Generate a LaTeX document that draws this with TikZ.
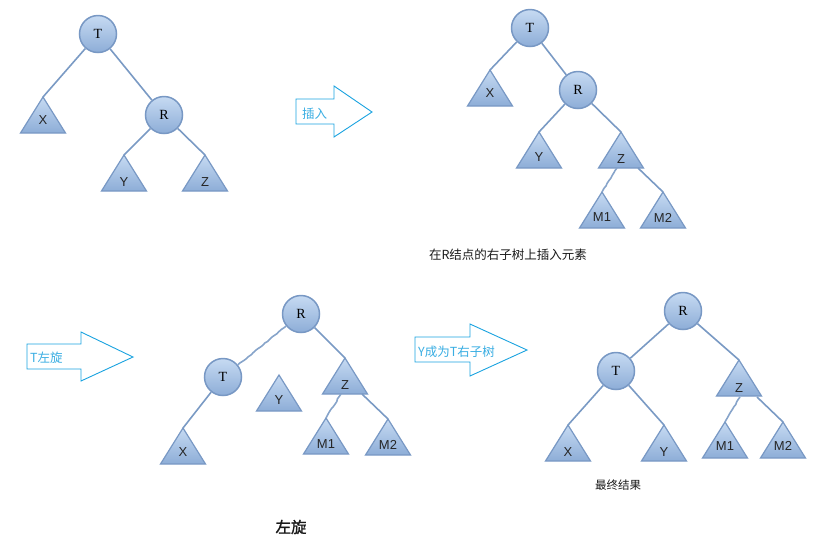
\documentclass[tikz,border=0pt]{standalone}
\usepackage{fontspec}
\setmainfont{Liberation Serif}
\newfontfamily\cjk{Noto Sans CJK SC}
\newfontfamily\cjkb{Noto Sans CJK SC}[FakeBold=1.5]
\newfontfamily\lsans{Liberation Sans}
\usetikzlibrary{decorations.pathmorphing}
\definecolor{nodeborder}{HTML}{7898C4}
\definecolor{nodetop}{HTML}{C6DAF2}
\definecolor{nodebot}{HTML}{8DADD7}
\definecolor{edgecol}{HTML}{7A9AC4}
\definecolor{arrowcol}{HTML}{1AA3E0}
\definecolor{arrowtext}{HTML}{3AAEE3}
\definecolor{captext}{HTML}{1A1A1A}
\tikzset{
  circ/.style={circle, minimum size=37pt, inner sep=0pt, draw=nodeborder, line width=1.5pt,
    top color=nodetop, bottom color=nodebot, font=\fontsize{14}{16}\selectfont},
  tristyle/.style={draw=nodeborder, line width=1.2pt, top color=nodetop, bottom color=nodebot, line join=miter},
  trilabel/.style={inner sep=0pt, font=\lsans\fontsize{13}{15}\selectfont, text=black!85},
  edge/.style={draw=edgecol, line width=1.6pt},
  roughedge/.style={draw=edgecol!90, line width=1.6pt, decorate,
    decoration={random steps, segment length=3pt, amplitude=0.45pt}},
  blockarrow/.style={draw=arrowcol, line width=0.9pt, fill=white, line join=miter},
  arrowlabel/.style={inner sep=0pt, anchor=west, text=arrowtext, font=\cjk\fontsize{12.5}{14}\selectfont},
  captionnode/.style={inner sep=0pt, text=captext, font=\cjk\fontsize{12.5}{14}\selectfont},
}
\newcommand\mytri[5]{%
  \shade[tristyle] (#2,#3) -- ++(-22.5,36) -- ++(45,0) -- cycle;
  \coordinate (#1) at (#2,#3);
  \node[trilabel] (#1l) at (#2,#3+#5) {#4};%
}
\begin{document}
\begin{tikzpicture}[x=1pt,y=-1pt]
\useasboundingbox (0,0) rectangle (832,547);

% ---------- Tree 1 ----------
\mytri{X1}{43}{97}{X}{23}
\mytri{Y1}{124}{155}{Y}{27}
\mytri{Z1}{205}{155}{Z}{27}
\node[circ] (T1) at (98,34) {T};
\node[circ] (R1) at (164,115) {R};
\draw[edge] (T1) -- (X1);
\draw[edge] (T1) -- (R1);
\draw[edge] (R1) -- (Y1);
\draw[edge] (R1) -- (Z1);

% ---------- Arrow 1 ----------
\draw[blockarrow] (296,99) -- (334,99) -- (334,86) -- (372,112) -- (334,137) -- (334,124) -- (296,124) -- cycle;
\node[arrowlabel] (a1) at (302,114) {插入};

% ---------- Tree 2 ----------
\mytri{X2}{490}{70}{X}{23}
\mytri{Y2}{539}{132}{Y}{25}
\mytri{Z2}{621}{132}{Z}{27}
\mytri{M12}{602}{192}{M1}{25}
\mytri{M22}{663}{192}{M2}{26}
\node[circ] (T2) at (530,28) {T};
\node[circ] (R2) at (578,90) {R};
\draw[edge] (T2) -- (X2);
\draw[edge] (T2) -- (R2);
\draw[edge] (R2) -- (Y2);
\draw[edge] (R2) -- (Z2);
\coordinate (Z2bl) at (617,168);
\coordinate (Z2br) at (638,168);
\draw[roughedge] (Z2bl) -- (M12);
\draw[edge] (Z2br) -- (M22);
\node[captionnode] (c1) at (508,255) {在R结点的右子树上插入元素};

% ---------- Arrow 2 ----------
\draw[blockarrow] (27,344) -- (81,344) -- (81,332) -- (133,357) -- (81,381) -- (81,369) -- (27,369) -- cycle;
\node[arrowlabel] (a2) at (30,358) {T左旋};

% ---------- Tree 3 ----------
\mytri{X3}{183}{428}{X}{24}
\mytri{Y3}{279}{375}{Y}{25}
\mytri{Z3}{345}{358}{Z}{27}
\mytri{M13}{326}{418}{M1}{26}
\mytri{M23}{388}{419}{M2}{26}
\node[circ] (R3) at (301,314) {R};
\node[circ] (T3) at (223,377) {T};
\draw[roughedge] (R3) -- (T3);
\draw[edge] (T3) -- (X3);
\draw[edge] (R3) -- (Z3);
\coordinate (Z3bl) at (341,394);
\coordinate (Z3br) at (362,394);
\draw[roughedge] (Z3bl) -- (M13);
\draw[edge] (Z3br) -- (M23);
\node[captionnode, font=\cjkb\fontsize{15.5}{17}\selectfont] (c3) at (291,527) {左旋};

% ---------- Arrow 3 ----------
\draw[blockarrow] (415,337) -- (470,337) -- (470,324) -- (527,350) -- (470,376) -- (470,362) -- (415,362) -- cycle;
\node[arrowlabel] (a3) at (418,352) {Y成为T右子树};

% ---------- Tree 4 ----------
\mytri{X4}{568}{425}{X}{27}
\mytri{Y4}{664}{425}{Y}{27}
\mytri{Z4}{739}{360}{Z}{28}
\mytri{M14}{725}{422}{M1}{24}
\mytri{M24}{783}{422}{M2}{24}
\node[circ] (R4) at (683,311) {R};
\node[circ] (T4) at (616,371) {T};
\draw[edge] (R4) -- (T4);
\draw[edge] (R4) -- (Z4);
\draw[edge] (T4) -- (X4);
\draw[edge] (T4) -- (Y4);
\coordinate (Z4bl) at (740,397);
\coordinate (Z4br) at (757,397);
\draw[roughedge] (Z4bl) -- (M14);
\draw[edge] (Z4br) -- (M24);
\node[captionnode, font=\cjk\fontsize{11.5}{13}\selectfont] (c2) at (618,485) {最终结果};
\end{tikzpicture}
\end{document}
